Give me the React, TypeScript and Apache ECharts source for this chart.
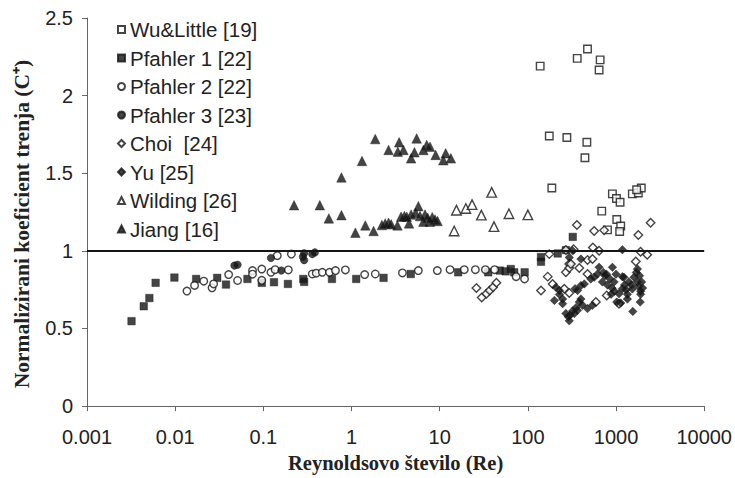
import React, { useEffect, useRef } from "react";
import * as echarts from "echarts";

// Re on a log axis, normalized friction coefficient C+ on a linear axis
const xTickLabels = ["0.001", "0.01", "0.1", "1", "10", "100", "1000", "10000"];
const yTickLabels = ["0", "0.5", "1", "1.5", "2", "2.5"];
const yTitle = "Normalizirani koeficient trenja (C⁺)";
const xTitle = "Reynoldsovo število (Re)";

const wuLittle: [number, number][] = [
  [138, 2.19], [363, 2.24], [475, 2.3], [661, 2.23], [643, 2.165],
  [175, 1.74], [277, 1.73], [467, 1.7], [444, 1.6], [187, 1.405],
  [689, 1.256], [910, 1.367], [1011, 1.337], [1112, 1.313], [1531, 1.367],
  [1790, 1.373], [1935, 1.405], [1714, 1.394], [1020, 1.202], [1130, 1.16],
  [1100, 1.125], [800, 1.135],
];

const pfahler1: [number, number][] = [
  [0.0032, 0.547], [0.0044, 0.643], [0.0051, 0.696], [0.006, 0.794], [0.0098, 0.828],
  [0.0173, 0.819], [0.03, 0.826], [0.0377, 0.783], [0.066, 0.819], [0.096, 0.794],
  [0.132, 0.798], [0.19, 0.787], [0.284, 0.819], [0.29, 0.8], [0.6, 0.819], [1.13, 0.819],
  [2.31, 0.826], [4.7, 0.851], [16.2, 0.862], [35.5, 0.862], [48, 0.873],
  [56, 0.868], [64, 0.883], [70, 0.862], [92, 0.862], [141, 0.93],
  [141, 0.96], [218, 0.983], [270, 1.005], [323, 1.09],
];

const pfahler2: [number, number][] = [
  [0.0136, 0.741], [0.0166, 0.777], [0.0211, 0.805], [0.0262, 0.762], [0.0273, 0.787],
  [0.0404, 0.847], [0.051, 0.809], [0.0754, 0.873], [0.0754, 0.85], [0.096, 0.883],
  [0.096, 0.81], [0.122, 0.862], [0.136, 0.879], [0.144, 0.969], [0.192, 0.877],
  [0.208, 0.979], [0.359, 0.851], [0.398, 0.856], [0.466, 0.862], [0.563, 0.862],
  [0.658, 0.873], [0.852, 0.877], [1.41, 0.847], [1.86, 0.851], [3.78, 0.858],
  [5.73, 0.873], [9.4, 0.873], [13.1, 0.879], [19, 0.879], [25.4, 0.879],
  [33, 0.879], [42, 0.879], [73.6, 0.834], [91.7, 0.819],
];

const pfahler3: [number, number][] = [
  [0.047, 0.905], [0.051, 0.91], [0.122, 0.954], [0.16, 0.873], [0.281, 0.962],
  [0.29, 0.985], [0.29, 0.94], [0.359, 0.979], [0.384, 0.99],
];

const choi: [number, number][] = [
  [26.1, 0.76], [30, 0.7], [33.9, 0.723], [36.9, 0.745], [40.3, 0.766], [44, 0.794],
  [141, 0.745], [168, 0.834], [175, 0.979], [191, 0.787], [259, 0.756], [270, 0.862],
  [270, 1.005], [295, 0.915], [295, 0.728], [295, 0.89], [308, 0.915], [330, 1.011],
  [360, 1.167], [383, 0.89], [475, 0.851], [475, 0.941], [541, 0.947], [546, 1.022],
  [565, 1.128], [591, 0.67], [643, 1.0], [733, 1.132], [785, 0.713], [1081, 0.66],
  [1675, 0.932], [1790, 1.102], [1898, 0.994], [2258, 0.975], [2466, 1.181],
];

const yu: [number, number][] = [
  [200, 0.681], [208, 0.766], [228, 0.719], [228, 0.745], [248, 0.69], [248, 0.66],
  [270, 0.596], [288, 0.575], [295, 0.549], [300, 0.585], [295, 0.958], [322, 1.0],
  [322, 0.613], [337, 0.596], [343, 0.756], [351, 0.634], [366, 0.745], [366, 0.617],
  [383, 0.67], [400, 0.947], [400, 0.777], [400, 0.69], [417, 0.649], [437, 0.787],
  [475, 0.628], [518, 0.819], [541, 0.649], [565, 0.83], [617, 0.851], [643, 0.894],
  [700, 0.8], [720, 0.86], [750, 0.84], [780, 0.85], [800, 0.78], [850, 0.82],
  [880, 0.72], [900, 0.76], [910, 0.894], [950, 0.8], [960, 0.74], [1000, 0.85],
  [1020, 0.67], [1081, 0.723], [1130, 0.664], [1180, 1.007], [1180, 0.834], [1180, 0.756],
  [1230, 0.83], [1250, 0.78], [1300, 0.75], [1345, 0.72], [1345, 0.69], [1400, 0.8],
  [1500, 0.78], [1531, 0.755], [1550, 0.61], [1600, 0.83], [1700, 0.86], [1750, 0.883],
  [1750, 0.8], [1800, 0.77], [1850, 0.84], [1880, 0.67], [1900, 0.72], [1900, 0.74],
  [1950, 0.8], [2000, 0.76],
];

const wilding: [number, number][] = [
  [14.6, 1.128], [15.5, 1.262], [19.8, 1.273], [23.3, 1.298], [29.7, 1.23],
  [38.9, 1.377], [41.3, 1.156], [61, 1.239], [100, 1.232],
];

const jiang: [number, number][] = [
  [0.769, 1.473], [1.315, 1.579], [1.86, 1.72], [2.63, 1.65], [3.35, 1.639],
  [3.47, 1.699], [3.88, 1.65], [4.74, 1.596], [5.17, 1.635], [5.48, 1.724],
  [6.53, 1.65], [7.13, 1.682], [7.77, 1.671], [9.0, 1.618], [11, 1.584],
  [11.7, 1.628], [13.4, 1.596],
  [0.223, 1.294], [0.437, 1.294], [0.553, 1.209], [0.769, 1.23], [1.107, 1.117],
  [1.435, 1.164], [1.78, 1.128], [2.21, 1.166], [2.41, 1.177], [2.63, 1.181],
  [2.82, 1.171], [3.32, 1.164], [3.65, 1.22], [3.98, 1.224], [4.23, 1.22],
  [4.49, 1.177], [4.74, 1.234], [5.33, 1.245], [5.73, 1.288], [5.98, 1.224],
  [6.82, 1.234], [7.31, 1.213], [6.53, 1.188], [8.24, 1.217], [8.85, 1.202],
  [9.46, 1.192], [7.75, 1.188],
];

const referenceLevel = 1;

const INK = "#151515";
const SANS = "Liberation Sans, Arial, sans-serif";
const SERIF = "Liberation Serif, Times New Roman, serif";

type MarkerKind = { symbol: string; size: number; open: boolean };

function scatter(name: string, data: [number, number][], m: MarkerKind, extra: any = {}) {
  return {
    name,
    type: "scatter",
    data,
    symbol: m.symbol,
    symbolSize: m.size,
    itemStyle: m.open
      ? { color: "#ffffff", borderColor: INK, borderWidth: 1.4 }
      : { color: INK, borderColor: INK, borderWidth: 0.5 },
    emphasis: { disabled: true },
    ...extra,
  };
}

export default function App() {
  const ref = useRef<HTMLDivElement>(null);

  useEffect(() => {
    if (!ref.current) return;
    document.body.style.margin = "0";
    const chart = echarts.init(ref.current, undefined, { renderer: "svg" });

    const series = [
      scatter("Wu&Little [19]", wuLittle, { symbol: "rect", size: 7.5, open: true }, {
        markLine: {
          silent: true,
          symbol: ["none", "none"],
          label: { show: false },
          lineStyle: { color: INK, width: 2, type: "solid" },
          data: [{ yAxis: referenceLevel }],
        },
      }),
      scatter("Pfahler 1 [22]", pfahler1, { symbol: "rect", size: 7.5, open: false }),
      scatter("Pfahler 2 [22]", pfahler2, { symbol: "circle", size: 7.5, open: true }),
      scatter("Pfahler 3 [23]", pfahler3, { symbol: "circle", size: 7.5, open: false }),
      scatter("Choi  [24]", choi, { symbol: "diamond", size: 8.5, open: true }),
      scatter("Yu [25]", yu, { symbol: "diamond", size: 8.5, open: false }),
      scatter("Wilding [26]", wilding, { symbol: "triangle", size: 9.5, open: true }),
      scatter("Jiang [16]", jiang, { symbol: "triangle", size: 9.5, open: false }),
    ];

    chart.setOption({
      animation: false,
      backgroundColor: "#ffffff",
      grid: { left: 87, right: 30, top: 18, bottom: 65 },
      legend: {
        orient: "vertical",
        left: 112,
        top: 14,
        itemWidth: 7,
        itemHeight: 7,
        itemGap: 7.5,
        selectedMode: false,
        textStyle: { fontSize: 20.5, fontFamily: SANS, color: "#222", lineHeight: 20 },
        data: series.map((s) => s.name),
      },
      graphic: [
        {
          type: "text",
          x: 22,
          y: 224,
          rotation: Math.PI / 2,
          silent: true,
          style: {
            text: yTitle,
            align: "center",
            verticalAlign: "middle",
            fontFamily: SERIF,
            fontSize: 21.5,
            fontWeight: "bold",
            fill: "#222",
          },
        },
      ],
      xAxis: {
        type: "log",
        logBase: 10,
        min: 0.001,
        max: 10000,
        splitLine: { show: false },
        minorTick: { show: false },
        axisLine: { show: true, lineStyle: { color: "#666", width: 1 } },
        axisTick: { show: true, length: 5, lineStyle: { color: "#666" } },
        axisLabel: {
          fontSize: 20,
          fontFamily: SANS,
          color: "#222",
          margin: 21,
          formatter: (v: number) => xTickLabels[Math.round(Math.log10(v)) + 3] ?? "",
        },
        name: xTitle,
        nameLocation: "middle",
        nameGap: 45,
        nameTextStyle: { fontFamily: SERIF, fontSize: 20.5, fontWeight: "bold", color: "#222" },
      },
      yAxis: {
        type: "value",
        min: 0,
        max: 2.5,
        interval: 0.5,
        splitLine: { show: false },
        axisLine: { show: true, lineStyle: { color: "#666", width: 1 } },
        axisTick: { show: true, length: 5, lineStyle: { color: "#666" } },
        axisLabel: {
          fontSize: 20,
          fontFamily: SANS,
          color: "#222",
          margin: 14,
          formatter: (v: number) => yTickLabels[Math.round(v * 2)] ?? "",
        },
      },
      series,
    });

    return () => chart.dispose();
  }, []);

  return <div ref={ref} style={{ width: 735, height: 478 }} />;
}
